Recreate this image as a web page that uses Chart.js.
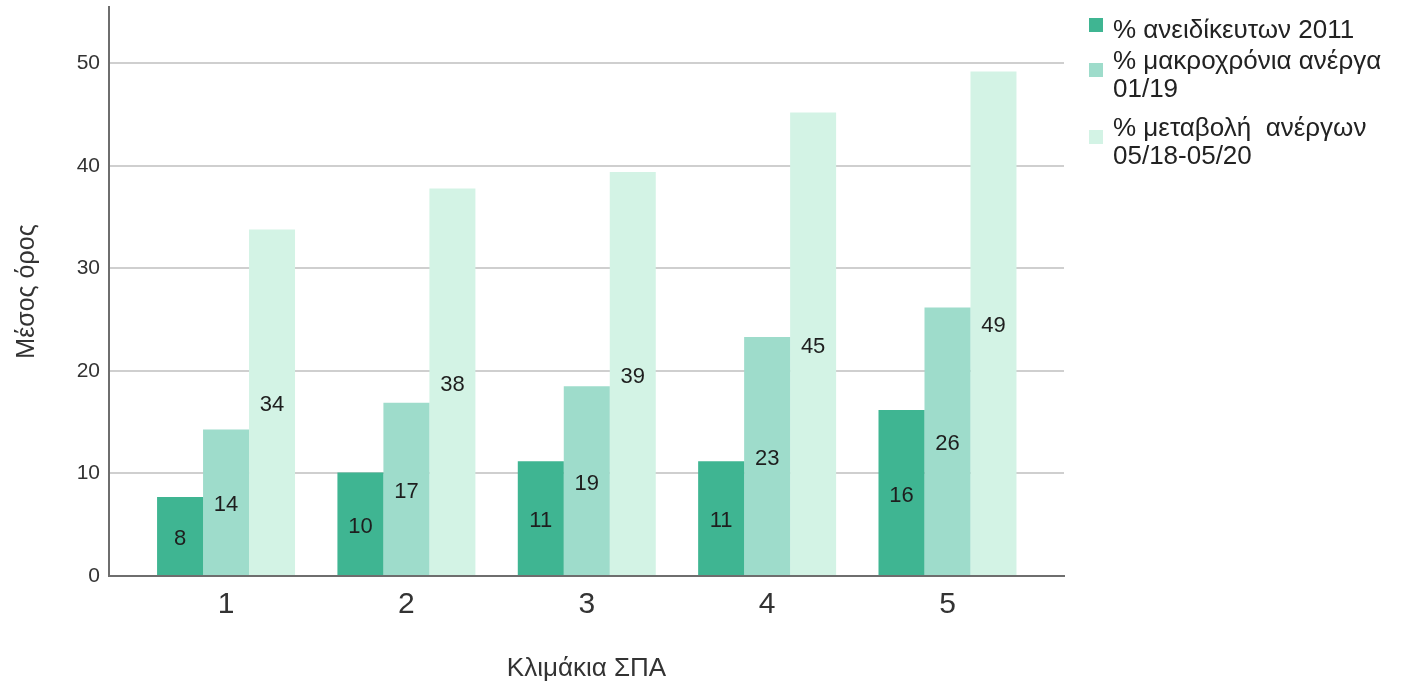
<!DOCTYPE html>
<html>
<head>
<meta charset="utf-8">
<script src="https://cdn.jsdelivr.net/npm/chart.js@4.4.1/dist/chart.umd.min.js"></script>
<style>
    html, body { margin: 0; padding: 0; background: #fff; }
    #wrap { position: relative; width: 1414px; height: 688px; }
    #legend {
        position: absolute; left: 1089px; top: 15px;
        font-family: "Liberation Sans", Arial, sans-serif; font-size: 26px; color: #222;
        line-height: 28px;
    }
    .leg-item { display: flex; align-items: center; }
    .leg-item:nth-child(1) { margin-bottom: 3px; }
    .leg-item:nth-child(2) { margin-bottom: 11px; }
    .leg-box { width: 14px; height: 14px; margin-right: 10px; position: relative; top: -4px; flex: none; }
</style>
</head>
<body>
<div id="wrap">
    <canvas id="chart" width="1414" height="688"></canvas>
    <div id="legend"></div>
</div>
<script>
// Data
const categories = ['1', '2', '3', '4', '5'];
const seriesNames = [
    ['% ανειδίκευτων 2011'],
    ['% μακροχρόνια ανέργα', '01/19'],
    ['% μεταβολή  ανέργων', '05/18-05/20']
];
const unskilled2011 = [7.7, 10.1, 11.2, 11.2, 16.2];
const longTerm0119 = [14.3, 16.9, 18.5, 23.3, 26.2];
const change1820 = [33.8, 37.8, 39.4, 45.2, 49.2];
const yTicks = [0, 10, 20, 30, 40, 50];
const colors = ['#3fb592', '#9edccb', '#d3f3e5'];

const seriesValues = [unskilled2011, longTerm0119, change1820];
const fontFamily = '"Liberation Sans", Arial, sans-serif';

// Legend (HTML)
const legendEl = document.getElementById('legend');
seriesNames.forEach((lines, i) => {
    const item = document.createElement('div');
    item.className = 'leg-item';
    const box = document.createElement('span');
    box.className = 'leg-box';
    box.style.background = colors[i];
    item.appendChild(box);
    const text = document.createElement('span');
    text.style.whiteSpace = 'pre';
    text.textContent = lines.join('\n');
    item.appendChild(text);
    legendEl.appendChild(item);
});

// Value labels inside bars
const barLabels = {
    id: 'barLabels',
    afterDatasetsDraw(chart) {
        const ctx = chart.ctx;
        ctx.save();
        ctx.font = '22px ' + fontFamily;
        ctx.fillStyle = '#1e1e1e';
        ctx.textAlign = 'center';
        ctx.textBaseline = 'middle';
        chart.data.datasets.forEach((ds, i) => {
            chart.getDatasetMeta(i).data.forEach((bar, j) => {
                const p = bar.getCenterPoint();
                ctx.fillText(Math.round(ds.data[j].y), p.x, p.y + 3);
            });
        });
        ctx.restore();
    }
};

const ctx = document.getElementById('chart').getContext('2d');
new Chart(ctx, {
    type: 'bar',
    data: {
        datasets: seriesValues.map((vals, i) => ({
            label: seriesNames[i].join(' '),
            data: vals.map((v, j) => ({ x: j + 1, y: v })),
            backgroundColor: colors[i],
            borderWidth: 0,
            barPercentage: 1,
            categoryPercentage: 0.765
        }))
    },
    options: {
        responsive: false,
        animation: false,
        layout: { padding: { top: 7, right: 350, left: 0, bottom: 0 } },
        plugins: {
            legend: { display: false },
            tooltip: { enabled: false }
        },
        scales: {
            x: {
                type: 'linear',
                offset: false,
                min: 0.351,
                max: 5.646,
                afterBuildTicks: scale => {
                    scale.ticks = categories.map((c, i) => ({ value: i + 1 }));
                },
                afterFit: scale => {
                    scale.height = 112;
                    scale.paddingLeft = 0;
                    scale.paddingRight = 0;
                },
                grid: { display: false, drawTicks: false },
                border: { color: '#6e6e6e', width: 2 },
                ticks: {
                    padding: 11,
                    color: '#333',
                    font: { family: fontFamily, size: 30 },
                    callback: v => categories[v - 1]
                },
                title: {
                    display: true,
                    text: 'Κλιμάκια ΣΠΑ',
                    color: '#333',
                    font: { family: fontFamily, size: 26 },
                    padding: { top: 0, bottom: 4 }
                }
            },
            y: {
                min: 0,
                max: 55.5,
                afterBuildTicks: scale => {
                    scale.ticks = yTicks.map(v => ({ value: v }));
                },
                afterFit: scale => {
                    scale.width = 109;
                    scale.paddingTop = 0;
                    scale.paddingBottom = 0;
                },
                grid: { color: '#cfcfcf', lineWidth: 2, drawTicks: false },
                border: { color: '#6e6e6e', width: 2 },
                ticks: {
                    padding: 9,
                    color: '#333',
                    font: { family: fontFamily, size: 21 }
                },
                title: {
                    display: true,
                    text: 'Μέσος όρος',
                    color: '#333',
                    font: { family: fontFamily, size: 25 },
                    padding: { top: 12, bottom: 0 }
                }
            }
        }
    },
    plugins: [barLabels]
});
</script>
</body>
</html>
